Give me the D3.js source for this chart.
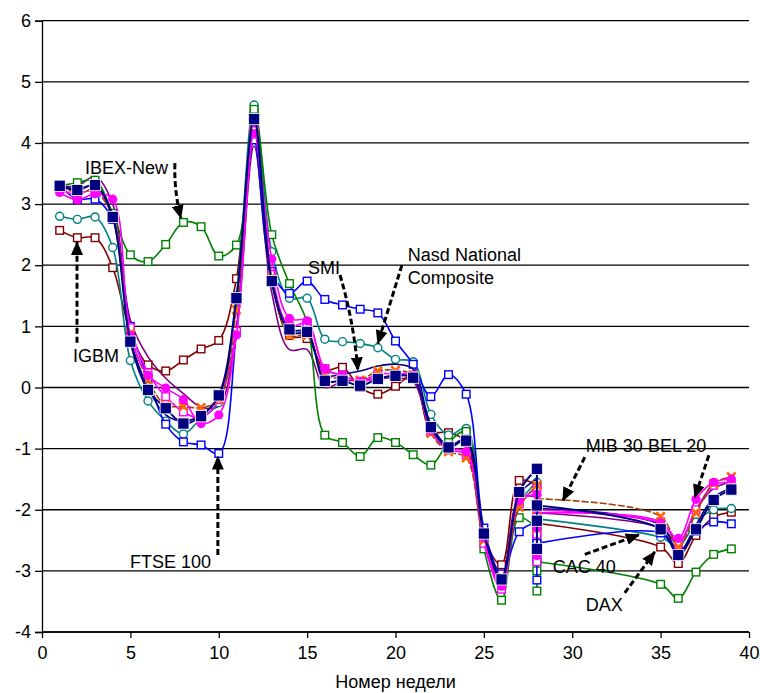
<!DOCTYPE html>
<html>
  <head>
    <meta charset="UTF-8" />
    <script src="https://cdn.jsdelivr.net/npm/d3@7"></script>
    <style>
      body { margin: 0; background: #fff; }
      svg { display: block; font-family: "Liberation Sans", Arial, sans-serif; }
    </style>
  </head>
  <body>
    <svg></svg>
    <script>
      // week numbers (week 28 has several readings)
      const weeks = [1, 2, 3, 4, 5, 6, 7, 8, 9, 10, 11, 12, 13, 14, 15, 16, 17, 18, 19, 20,
        21, 22, 23, 24, 25, 26, 27, 28, 28, 28, 28, 35, 36, 37, 38, 39]

      const navySq = [3.30, 3.23, 3.31, 2.79, 0.75, -0.04, -0.34, -0.59, -0.47, -0.13, 1.46, 4.39, 1.74, 0.95, 0.91, 0.11, 0.11, 0.03, 0.14, 0.19,
        0.16, -0.65, -0.98, -0.87, -2.39, -3.14, -1.71, -1.33, -2.64, -2.18, -1.93, -2.32, -2.74, -2.32, -1.84, -1.67]
      const magentaDot = [3.19, 3.07, 3.17, 3.08, 0.85, 0.20, -0.01, -0.20, -0.59, -0.45, 0.86, 4.15, 2.10, 1.13, 1.09, 0.30, 0.20, 0.10, 0.15, 0.20,
        0.15, -0.70, -1.00, -1.05, -2.45, -3.25, -1.85, -1.75, -2.75, -2.30, -2.00, -2.22, -2.47, -1.83, -1.55, -1.50]
      const orangeX = [3.25, 3.20, 3.20, 2.80, 0.88, 0.12, -0.29, -0.31, -0.33, -0.20, 1.27, 4.18, 1.80, 0.85, 0.85, 0.20, 0.15, 0.12, 0.27, 0.28,
        0.20, -0.75, -1.05, -1.15, -2.50, -3.10, -1.96, -1.60, -2.30, -2.00, -1.82, -2.11, -2.61, -2.05, -1.57, -1.46]
      const greenSq = [3.30, 3.35, 3.39, 2.85, 2.17, 2.06, 2.34, 2.70, 2.63, 2.15, 2.33, 4.55, 2.50, 1.70, 1.06, -0.78, -0.90, -1.13, -0.82, -0.90,
        -1.10, -1.27, -0.90, -0.72, -2.64, -3.48, -2.13, -2.30, -3.33, -3.00, -2.85, -3.22, -3.45, -3.02, -2.73, -2.64]
      const tealDot = [2.80, 2.75, 2.79, 2.29, 0.44, -0.22, -0.55, -0.76, -0.50, -0.25, 1.50, 4.62, 2.22, 1.46, 1.46, 0.79, 0.75, 0.72, 0.65, 0.46,
        0.42, -0.44, -0.78, -0.67, -2.50, -3.20, -1.90, -1.55, -2.50, -2.30, -2.15, -2.45, -2.60, -2.20, -2.00, -1.98]
      const maroonSq = [2.57, 2.45, 2.45, 1.96, 0.90, 0.37, 0.27, 0.45, 0.63, 0.77, 1.78, 4.50, 1.80, 0.85, 0.80, 0.29, 0.33, 0.00, -0.11, 0.02,
        0.20, -0.71, -0.74, -0.90, -2.45, -2.90, -1.52, -1.60, -2.45, -2.30, -2.22, -2.61, -2.88, -2.42, -2.12, -2.04]
      const blueSq = [3.30, 3.08, 3.08, 2.75, 1.00, 0.15, -0.60, -0.89, -0.94, -1.08, 0.90, 4.05, 1.90, 1.54, 1.74, 1.44, 1.35, 1.28, 1.22, 0.76,
        0.38, -0.15, 0.21, -0.11, -2.30, -3.05, -2.36, -2.20, -3.15, -2.80, -2.55, -2.38, -2.70, -2.35, -2.20, -2.23]
      const purpleLine = [3.30, 3.30, 3.45, 3.00, 1.10, 0.50, 0.15, -0.10, -0.32, -0.30, 1.00, 3.95, 1.55, 0.62, 0.62, 0.00, 0.10, 0.12, 0.15, 0.15,
        0.10, -0.70, -1.00, -1.05, -2.50, -3.20, -1.80, -1.80, -2.60, -2.30, -2.05, -2.30, -2.55, -2.00, -1.65, -1.55]
      const navyLine = [3.30, 3.25, 3.30, 2.80, 0.80, 0.00, -0.45, -0.55, -0.45, -0.15, 1.40, 4.30, 1.70, 0.90, 0.88, 0.20, 0.22, 0.27, 0.35, 0.38,
        0.30, -0.60, -0.95, -0.85, -2.40, -3.10, -1.75, -1.50, -2.40, -2.20, -1.98, -2.25, -2.70, -2.25, -1.80, -1.65]
      const pinkSq = [3.25, 3.15, 3.25, 2.80, 0.98, 0.24, -0.15, -0.40, -0.50, -0.20, 0.92, 4.20, 1.85, 1.00, 1.05, 0.31, 0.20, 0.10, 0.22, 0.22,
        0.20, -0.72, -1.02, -1.10, -2.55, -3.30, -1.90, -1.65, -2.85, -2.40, -2.05, -2.20, -2.55, -2.00, -1.60, -1.55]

      const xTicks = [0, 5, 10, 15, 20, 25, 30, 35, 40]
      const yTicks = [-4, -3, -2, -1, 0, 1, 2, 3, 4, 5, 6]
      const xTitle = "Номер недели"

      // drawing order: later = on top
      const series = [
        { v: purpleLine, color: "#800080", mark: null },
        { v: maroonSq, color: "#800000", mark: "square" },
        { v: tealDot, color: "#008080", mark: "circle" },
        { v: greenSq, color: "#008000", mark: "square" },
        { v: blueSq, color: "#0000ff", mark: "square" },
        { v: navyLine, color: "#000080", mark: null },
        { v: pinkSq, color: "#ff00ff", mark: "square" },
        { v: orangeX, color: "#a0400a", dash: "7,2", mark: "x", markColor: "#ff6600" },
        { v: magentaDot, color: "#ff00ff", mark: "dot" },
        { v: navySq, color: "#000080", mark: "fillsq", width: 2 },
      ]

      // callouts: text (x, y in data units) and dashed arrow from -> to
      const notes = [
        { text: ["IBEX-New"], at: [2.43, 3.49], from: [7.52, 3.67], to: [7.86, 2.77], bend: 4 },
        { text: ["IGBM"], at: [1.75, 0.42], from: [1.98, 0.73], to: [1.98, 2.38], bend: 0 },
        { text: ["FTSE 100"], at: [4.98, -2.96], from: [9.95, -2.74], to: [9.95, -1.13], bend: 0 },
        { text: ["SMI"], at: [15.05, 1.85], from: [16.86, 1.84], to: [17.87, 0.28], bend: -5 },
        { text: ["Nasd National", "Composite"], at: [20.7, 2.07], from: [20.36, 2.0], to: [19.0, 0.72], bend: 0 },
        { text: ["MIB 30 BEL 20"], at: [30.77, -1.06], from: [30.71, -1.14], to: [29.47, -1.85], bend: 0 },
        { text: [], from: [37.73, -1.11], to: [36.93, -1.8], bend: 0 },
        { text: ["CAC 40"], at: [28.9, -3.04], from: [30.71, -2.73], to: [33.77, -2.41], bend: 0 },
        { text: ["DAX"], at: [30.77, -3.65], from: [32.97, -3.36], to: [34.67, -2.69], bend: 0 },
      ]

      const width = 760
      const height = 693
      const marge = { top: 20.7, left: 42, right: 11, bottom: 61 }
      const font = "Liberation Sans, Arial, sans-serif"

      const svg = d3.select("svg").attr("width", width).attr("height", height)

      const x = d3.scaleLinear().domain([0, 40]).range([marge.left, width - marge.right])
      const y = d3.scaleLinear().domain([-4, 6]).range([height - marge.bottom, marge.top])

      // gridlines
      svg.append("g")
        .selectAll("line")
        .data(yTicks)
        .join("line")
        .attr("x1", x(0))
        .attr("x2", x(40))
        .attr("y1", (d) => y(d))
        .attr("y2", (d) => y(d))
        .attr("stroke", "#000")
        .attr("stroke-width", 1.3)

      // axes
      svg.append("g")
        .attr("transform", `translate(${x(0)},0)`)
        .call(d3.axisLeft(y).tickValues(yTicks).tickSize(7).tickPadding(4).tickFormat((d) => String(d)))
        .call((g) => g.selectAll("line, path").attr("stroke", "#000").attr("stroke-width", 1.3))
        .call((g) => g.selectAll("text").attr("font-size", 18).attr("font-family", font).attr("fill", "#000"))

      svg.append("g")
        .attr("transform", `translate(0,${y(-4)})`)
        .call(d3.axisBottom(x).tickValues(xTicks).tickSize(6).tickPadding(8))
        .call((g) => g.select(".domain").attr("d", `M${x(0)},0H${x(40)}`))
        .call((g) => g.selectAll("line, path").attr("stroke", "#000").attr("stroke-width", 1.3))
        .call((g) => g.selectAll("text").attr("font-size", 18).attr("font-family", font).attr("fill", "#000"))

      svg.append("text")
        .attr("x", (x(0) + x(40)) / 2)
        .attr("y", 688)
        .attr("text-anchor", "middle")
        .attr("font-size", 18)
        .text(xTitle)

      // series: smooth up to the first week-28 reading, straight through the stack, smooth after
      const smooth = d3.line()
        .curve(d3.curveCatmullRom.alpha(0.5))
        .x((d) => x(d[0]))
        .y((d) => y(d[1]))
      const straight = d3.line()
        .x((d) => x(d[0]))
        .y((d) => y(d[1]))

      const a = weeks.indexOf(28)
      const b = weeks.lastIndexOf(28)

      series.forEach((s) => {
        const pts = weeks.map((w, i) => [w, s.v[i]])
        const g = svg.append("g")
        g.append("path")
          .attr("d", smooth(pts.slice(0, a + 1)) + straight(pts.slice(a, b + 1)) + smooth(pts.slice(b)))
          .attr("fill", "none")
          .attr("stroke", s.color)
          .attr("stroke-width", s.width || 1.6)
          .attr("stroke-dasharray", s.dash || null)
          .attr("stroke-linejoin", "round")

        if (!s.mark) return
        const m = g.selectAll("g").data(pts).join("g")
          .attr("transform", (d) => `translate(${x(d[0])},${y(d[1])})`)
        if (s.mark === "square") {
          m.append("rect").attr("x", -3.8).attr("y", -3.8).attr("width", 7.6).attr("height", 7.6)
            .attr("fill", "#fff").attr("stroke", s.color).attr("stroke-width", 1.4)
        } else if (s.mark === "circle") {
          m.append("circle").attr("r", 4).attr("fill", "#fff").attr("stroke", s.color).attr("stroke-width", 1.4)
        } else if (s.mark === "dot") {
          m.append("circle").attr("r", 4.6).attr("fill", s.color)
        } else if (s.mark === "fillsq") {
          m.append("rect").attr("x", -5.6).attr("y", -5.6).attr("width", 11.2).attr("height", 11.2)
            .attr("fill", s.color).attr("stroke", "#fff").attr("stroke-width", 0.8)
        } else if (s.mark === "x") {
          m.append("path").attr("d", d3.symbol(d3.symbolTimes, 48)())
            .attr("fill", "none").attr("stroke", s.markColor).attr("stroke-width", 2.6)
        }
      })

      // callouts
      svg.append("defs").append("marker")
        .attr("id", "head")
        .attr("markerUnits", "userSpaceOnUse")
        .attr("viewBox", "0 0 14 12")
        .attr("refX", 13)
        .attr("refY", 6)
        .attr("markerWidth", 14)
        .attr("markerHeight", 12)
        .attr("orient", "auto")
        .append("path")
        .attr("d", "M0,0L14,6L0,12Z")
        .attr("fill", "#000")

      const ng = svg.append("g")
      notes.forEach((n) => {
        const [x0, y0] = [x(n.from[0]), y(n.from[1])]
        const [x1, y1] = [x(n.to[0]), y(n.to[1])]
        const mx = (x0 + x1) / 2
        const my = (y0 + y1) / 2
        const len = Math.hypot(x1 - x0, y1 - y0)
        const cx = mx + (-(y1 - y0) / len) * n.bend
        const cy = my + ((x1 - x0) / len) * n.bend
        ng.append("path")
          .attr("d", `M${x0},${y0}Q${cx},${cy} ${x1},${y1}`)
          .attr("fill", "none")
          .attr("stroke", "#000")
          .attr("stroke-width", 3)
          .attr("stroke-dasharray", "6,3")
          .attr("marker-end", "url(#head)")
        n.text.forEach((t, i) => {
          ng.append("text")
            .attr("x", x(n.at[0]))
            .attr("y", y(n.at[1]) + i * 23)
            .attr("font-size", 18)
            .attr("fill", "#000")
            .text(t)
        })
      })
    </script>
  </body>
</html>
